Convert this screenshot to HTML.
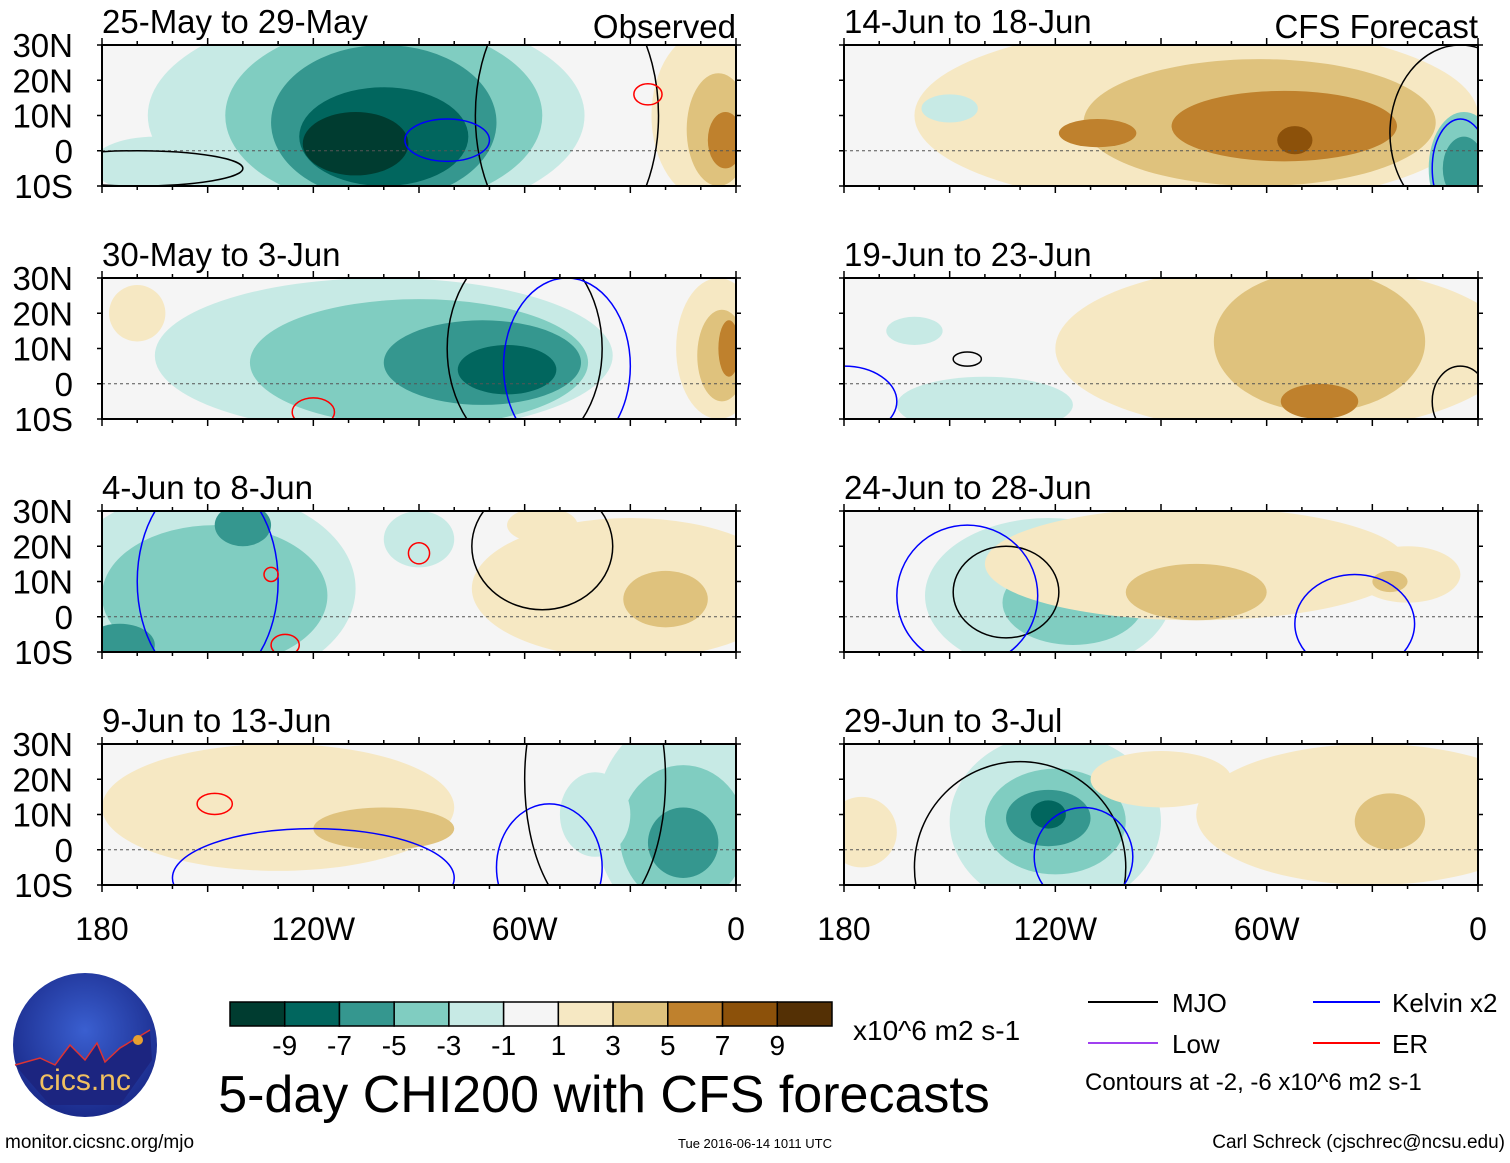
<!DOCTYPE html>
<html><head><meta charset="utf-8"><style>
body{margin:0;background:#fff;}
svg text{font-family:"Liberation Sans",sans-serif;}
</style></head><body>
<svg id="s" width="1510" height="1158" viewBox="0 0 1510 1158" xmlns="http://www.w3.org/2000/svg">
<defs>
<radialGradient id="lg" cx="50%" cy="40%" r="60%"><stop offset="0" stop-color="#3a5fd0"/><stop offset="1" stop-color="#1a2a8a"/></radialGradient>
</defs>
<g id="panels"></g>
<g>
<circle cx="85" cy="1045" r="72" fill="url(#lg)"/>
<path d="M15,1065 L40,1058 L55,1065 L70,1045 L85,1060 L97,1043 L105,1062 L120,1048 L150,1030 L152,1060 L120,1105 L50,1105 Z" fill="#1c2580"/>
<path d="M15,1065 L40,1058 L55,1065 L70,1045 L85,1060 L97,1043 L105,1062 L120,1048 L150,1030" stroke="#d33" stroke-width="1.5" fill="none"/>
<circle cx="138" cy="1040" r="5" fill="#e8a030"/>
<text x="85" y="1090" font-size="30" fill="#f0c060" text-anchor="middle">cics.nc</text>
</g>
<text x="5" y="1148" font-size="19">monitor.cicsnc.org/mjo</text>
<text x="755" y="1148" font-size="13" text-anchor="middle">Tue 2016-06-14 1011 UTC</text>
<text x="1505" y="1148" font-size="19" text-anchor="end">Carl Schreck (cjschrec@ncsu.edu)</text>
<g id="cbar"></g>
<text x="853" y="1040" font-size="28">x10^6 m2 s-1</text>
<text x="604" y="1112" font-size="52" text-anchor="middle">5-day CHI200 with CFS forecasts</text>
<g>
<line x1="1088" y1="1002" x2="1158" y2="1002" stroke="#000" stroke-width="2"/>
<text x="1172" y="1012" font-size="26">MJO</text>
<line x1="1313" y1="1002" x2="1380" y2="1002" stroke="#00f" stroke-width="2"/>
<text x="1392" y="1012" font-size="26">Kelvin x2</text>
<line x1="1088" y1="1043" x2="1158" y2="1043" stroke="#a040f0" stroke-width="2"/>
<text x="1172" y="1053" font-size="26">Low</text>
<line x1="1313" y1="1043" x2="1380" y2="1043" stroke="#f00" stroke-width="2"/>
<text x="1392" y="1053" font-size="26">ER</text>
<text x="1085" y="1090" font-size="24">Contours at -2, -6 x10^6 m2 s-1</text>
</g>
</svg>
<script>
const colors=["#003c30","#01665e","#35978f","#80cdc1","#c7eae5","#f5f5f5","#f6e8c3","#dfc27d","#bf812d","#8c510a","#543005"];
const cbarLabels=[-9,-7,-5,-3,-1,1,3,5,7,9];
const panelTitles=["25-May to 29-May","30-May to 3-Jun","4-Jun to 8-Jun","9-Jun to 13-Jun","14-Jun to 18-Jun","19-Jun to 23-Jun","24-Jun to 28-Jun","29-Jun to 3-Jul"];
const latTicks=["30N","20N","10N","0","10S"];
const latVals=[30,20,10,0,-10];
const lonTicks=["180","120W","60W","0"];
const lonVals=[-180,-120,-60,0];
// blobs: [lon, lat, rxDeg, ryDeg, value]
const blobs0=[[-105,10,62,30,-2],[-165,-4,18,8,-2],[-100,10,45,26,-4],[-100,8,32,22,-6],[-100,4,24,14,-8],[-108,2,15,9,-10],[-8,10,16,24,2],[-5,6,9,16,4],[-3,3,5,8,6]];
const blobs1=[[-100,8,65,22,-2],[-90,6,48,18,-4],[-72,6,28,12,-6],[-65,4,14,7,-8],[-170,20,8,8,2],[-5,10,12,20,2],[-4,8,7,13,4],[-2,10,3,8,6]];
const blobs2=[[-150,8,42,28,-2],[-148,6,32,20,-4],[-140,26,8,6,-6],[-175,-8,10,6,-6],[-90,22,10,8,-2],[-30,8,45,20,2],[-20,5,12,8,4],[-55,26,10,5,2]];
const blobs3=[[-130,12,50,18,2],[-100,6,20,6,4],[-15,8,25,30,-2],[-15,4,18,20,-4],[-15,2,10,10,-6],[-40,10,10,12,-2]];
const blobs4=[[-80,10,80,26,2],[-62,8,50,18,4],[-55,7,32,10,6],[-108,5,11,4,6],[-52,3,5,4,8],[-150,12,8,4,-2],[-4,-5,10,16,-4],[-4,-5,6,9,-6]];
const blobs5=[[-55,10,65,24,2],[-45,12,30,20,4],[-45,-5,11,5,6],[-140,-6,25,8,-2],[-160,15,8,4,-2]];
const blobs6=[[-122,6,35,22,-2],[-115,4,20,12,-4],[-80,15,60,16,2],[-80,7,20,8,4],[-20,12,15,8,2],[-25,10,5,3,4]];
const blobs7=[[-120,8,30,25,-2],[-120,8,20,15,-4],[-122,9,12,8,-6],[-122,10,5,4,-8],[-175,5,10,10,2],[-30,10,50,20,2],[-25,8,10,8,4],[-90,20,20,8,2]];
const allBlobs=[blobs0,blobs1,blobs2,blobs3,blobs4,blobs5,blobs6,blobs7];
// contour ellipses: [lon, lat, rxDeg, ryDeg, color]
const contours=[
 [[-48,10,26,40,"#000"],[-82,3,12,6,"#00f"],[-25,16,4,3,"#f00"],[-170,-5,30,5,"#000"]],
 [[-60,10,22,30,"#000"],[-48,5,18,25,"#00f"],[-120,-8,6,4,"#f00"]],
 [[-150,10,20,30,"#00f"],[-128,-8,4,3,"#f00"],[-132,12,2,2,"#f00"],[-90,18,3,3,"#f00"],[-55,20,20,18,"#000"]],
 [[-120,-8,40,14,"#00f"],[-148,13,5,3,"#f00"],[-53,-5,15,18,"#00f"],[-40,20,20,40,"#000"]],
 [[-5,5,20,25,"#000"],[-5,-5,8,14,"#00f"]],
 [[-145,7,4,2,"#000"],[-5,-5,8,10,"#000"],[-180,-5,15,10,"#00f"]],
 [[-134,7,15,13,"#000"],[-145,6,20,20,"#00f"],[-35,-2,17,14,"#00f"]],
 [[-130,-5,30,30,"#000"],[-112,-2,14,14,"#00f"]]
];
const NS="http://www.w3.org/2000/svg";
function mk(t,a,p){const e=document.createElementNS(NS,t);for(const k in a)e.setAttribute(k,a[k]);p.appendChild(e);return e;}
function colIdx(v){return Math.max(0,Math.min(10,Math.floor((v+11)/2)));}
const root=document.getElementById('panels');
const pw=634,ph=141;
for(let i=0;i<8;i++){
 const x0=i<4?102:844,y0=[45,278,511,744][i%4];
 const lonX=l=>x0+(l+180)/180*pw;
 const latY=a=>y0+(30-a)/40*ph;
 const sx=pw/180,sy=ph/40;
 const g=mk('g',{},root);
 
 
 const cp=mk('clipPath',{id:'c'+i},g);mk('rect',{x:x0,y:y0,width:pw,height:ph},cp);
 const inner=mk('g',{'clip-path':'url(#c'+i+')'},g);
 mk('rect',{x:x0,y:y0,width:pw,height:ph,fill:colors[5]},inner);
 allBlobs[i].forEach(b=>{const e=mk('ellipse',{cx:lonX(b[0]),cy:latY(b[1]),rx:b[2]*sx,ry:b[3]*sy,fill:colors[colIdx(b[4])]},inner);
  
  });
 mk('line',{x1:x0,y1:latY(0),x2:x0+pw,y2:latY(0),stroke:'#555','stroke-width':1,'stroke-dasharray':'3,3'},inner);
 contours[i].forEach(c=>{const e=mk('ellipse',{cx:lonX(c[0]),cy:latY(c[1]),rx:c[2]*sx,ry:c[3]*sy,fill:'none',stroke:c[4],'stroke-width':1.5},inner);
  
  });
 mk('rect',{x:x0,y:y0,width:pw,height:ph,fill:'none',stroke:'#000','stroke-width':2},g);
 for(let l=-180;l<=0;l+=10){const x=lonX(l),L=l%30===0?7:4;
  mk('line',{x1:x,y1:y0,x2:x,y2:y0-L,stroke:'#000','stroke-width':1.5},g);
  mk('line',{x1:x,y1:y0+ph,x2:x,y2:y0+ph+L,stroke:'#000','stroke-width':1.5},g);}
 for(let a=-10;a<=30;a+=10){const y=latY(a);
  mk('line',{x1:x0,y1:y,x2:x0-5,y2:y,stroke:'#000','stroke-width':1.5},g);
  mk('line',{x1:x0+pw,y1:y,x2:x0+pw+5,y2:y,stroke:'#000','stroke-width':1.5},g);}
 const t=mk('text',{x:x0,y:y0-12,'font-size':33},g);t.textContent=panelTitles[i];
 
 
 if(i===0||i===4){const r=mk('text',{x:x0+pw,y:y0-7,'font-size':33,'text-anchor':'end'},g);r.textContent=i===0?'Observed':'CFS Forecast';
  
  }
 if(i<4){latVals.forEach((a,k)=>{const tt=mk('text',{x:73,y:latY(a)+12,'font-size':33,'text-anchor':'end'},g);tt.textContent=latTicks[k];
  
  });}
 if(i%4===3){lonVals.forEach((l,k)=>{const tt=mk('text',{x:lonX(l),y:y0+ph+55,'font-size':32,'text-anchor':'middle'},g);tt.textContent=lonTicks[k];
  
  });}
}
const cb=document.getElementById('cbar');const bw=602/11;
colors.forEach((c,k)=>{const r=mk('rect',{x:230+k*bw,y:1002,width:bw,height:24,fill:c,stroke:'#000','stroke-width':1.5},cb);
 
 });
cbarLabels.forEach((v,k)=>{const t=mk('text',{x:230+(k+1)*bw,y:1055,'font-size':28,'text-anchor':'middle'},cb);t.textContent=v;
 
 });
</script>
</body></html>
